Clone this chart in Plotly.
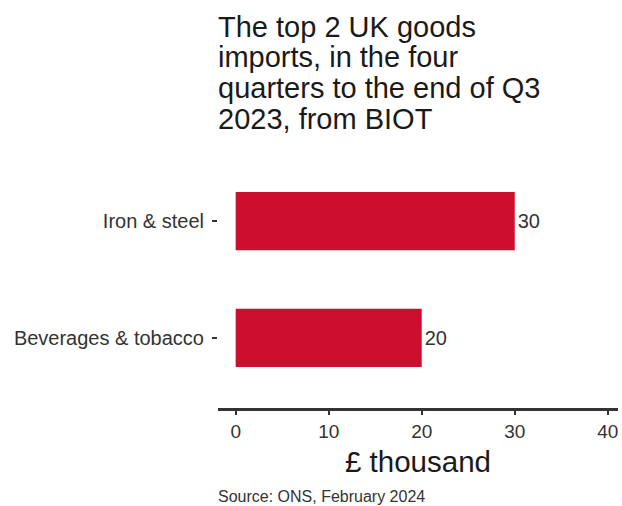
import plotly.graph_objects as go

# data
categories = ["Iron & steel", "Beverages & tobacco"]
values = [30, 20]
x_ticks = [0, 10, 20, 30, 40]
title_lines = [
    "The top 2 UK goods",
    "imports, in the four",
    "quarters to the end of Q3",
    "2023, from BIOT",
]
x_title = "£ thousand"
source_text = "Source: ONS, February 2024"

W, H = 622, 506
M_L, M_R, M_T, M_B = 218, 4, 151, 98
PLOT_H = H - M_T - M_B
FONT = "Liberation Sans, Arial, sans-serif"
BAR = "#CC0F2E"


def py(px):
    """Pixel row (from the top) -> paper y."""
    return (H - M_B - px) / PLOT_H


fig = go.Figure()

fig.add_trace(go.Bar(
    x=values,
    y=categories,
    orientation='h',
    width=0.5,
    marker=dict(color=BAR, line=dict(width=0)),
    text=[str(v) for v in values],
    textposition='outside',
    textfont=dict(family=FONT, size=20, color='#333333'),
    cliponaxis=False,
    hoverinfo='skip',
))

# title, one annotation per line to keep the tight spacing
for i, line in enumerate(title_lines):
    fig.add_annotation(
        text=line, xref='paper', yref='paper',
        x=0, y=py(27 + i * 30.5), xanchor='left', yanchor='middle',
        showarrow=False, xshift=-2,
        font=dict(family=FONT, size=29, color='#1a1a1a'),
    )

fig.add_annotation(
    text=source_text, xref='paper', yref='paper',
    x=0, y=py(496), xanchor='left', yanchor='middle',
    showarrow=False, xshift=-2,
    font=dict(family=FONT, size=16, color='#333333'),
)

fig.update_layout(
    width=W, height=H,
    margin=dict(l=M_L, r=M_R, t=M_T, b=M_B),
    paper_bgcolor='white',
    plot_bgcolor='white',
    showlegend=False,
    font=dict(family=FONT),
    xaxis=dict(
        range=[-1.9, 41.1],
        tickvals=x_ticks,
        ticks='outside', ticklen=4, tickwidth=2, tickcolor='#333333',
        showline=True, linewidth=2.5, linecolor='#333333',
        showgrid=False, zeroline=False,
        tickfont=dict(family=FONT, size=19, color='#333333'),
        title=dict(text=x_title, standoff=11,
                   font=dict(family=FONT, size=29.5, color='#1a1a1a')),
        fixedrange=True,
    ),
    yaxis=dict(
        range=[1.6, -0.6],
        ticks='outside', ticklen=5, tickwidth=2, tickcolor='#333333',
        ticklabelstandoff=4,
        showline=False, showgrid=False, zeroline=False,
        tickfont=dict(family=FONT, size=20, color='#333333'),
        fixedrange=True,
    ),
)

# drop the page's default body margin so the figure sits at the top-left corner
fig.write_html(
    "out.html",
    config={'displayModeBar': False},
    post_script="document.body.style.margin='0';",
)
